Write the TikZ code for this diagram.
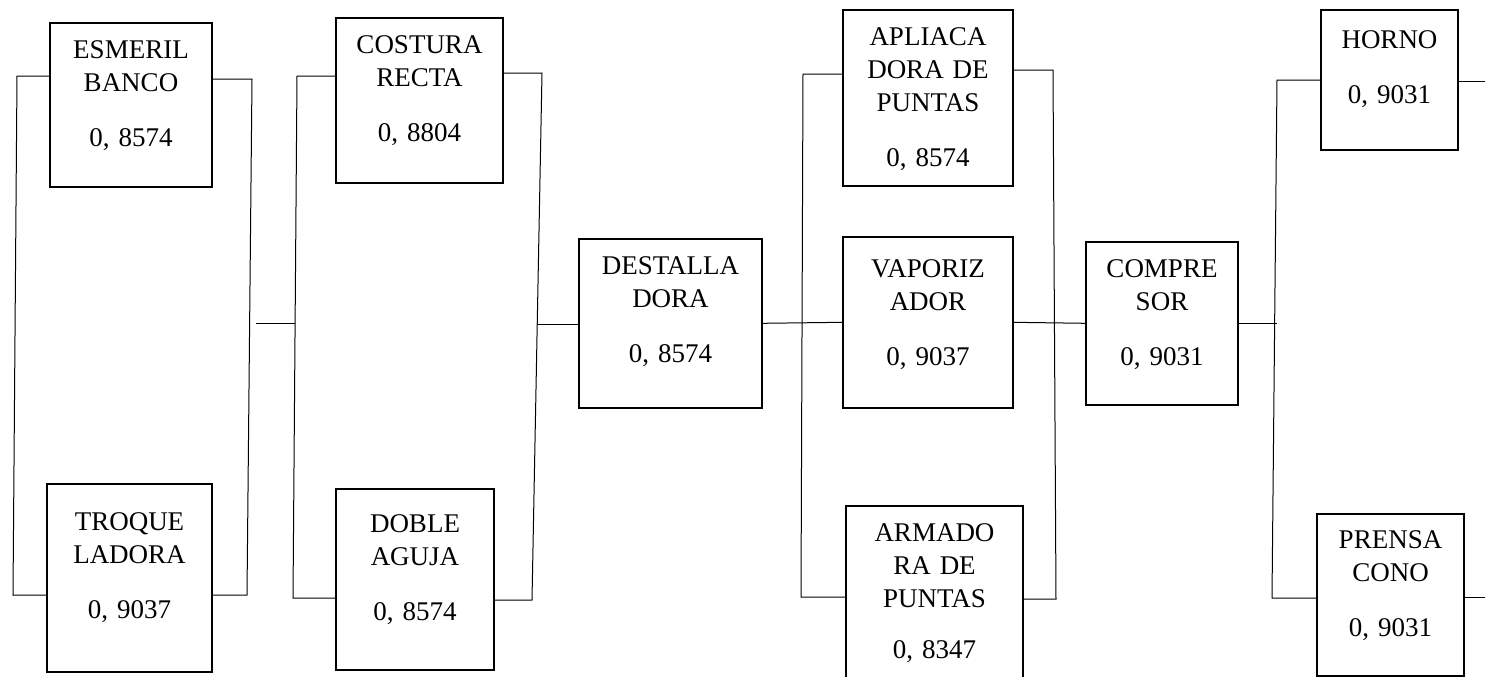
\documentclass[tikz,border=0pt]{standalone}
\usepackage{fontspec}
\setmainfont{Liberation Serif}
\usetikzlibrary{calc}
% machine name over its reliability value
\newcommand{\maq}[2]{#1\\[11pt]#2}

\begin{document}
\begin{tikzpicture}[x=0.5pt,y=-0.5pt,
  maquina/.style={draw,line width=0.8pt,align=center,inner sep=0pt,
    anchor=north,text height=18pt,
    font=\fontsize{13.5pt}{16.5pt}\selectfont},
  linea/.style={line width=0.5pt}]
  \clip (0,0) rectangle (1485,676);

  % Machines (pixel grid of the original sheet, y downwards; placed by top edge)
  \node[maquina,text width=81pt,text depth=64pt] (esmeril) at (131,22)
    {\maq{ESMERIL\\BANCO}{0, 8574}};
  \node[maquina,text width=82.5pt,text height=23.5pt,text depth=70.5pt] (troque) at (129.5,483)
    {\maq{TROQUE\\LADORA}{0, 9037}};
  \node[maquina,text width=83.5pt,text depth=64.5pt] (costura) at (419.5,17)
    {\maq{COSTURA\\RECTA}{0, 8804}};
  \node[maquina,text width=79pt,text height=22pt,text depth=68.5pt] (doble) at (415,488)
    {\maq{DOBLE\\AGUJA}{0, 8574}};
  \node[maquina,text width=91.5pt,text depth=66.5pt] (destalla) at (670.5,238)
    {\maq{DESTALLA\\DORA}{0, 8574}};
  \node[maquina,text width=85pt,text depth=70pt] (apliaca) at (928,9)
    {\maq{APLIACA\\DORA DE\\PUNTAS}{0, 8574}};
  \node[maquina,text width=85pt,text height=20.5pt,text depth=65pt] (vaporiz) at (928,236)
    {\maq{VAPORIZ\\ADOR}{0, 9037}};
  \node[maquina,text width=88.5pt,text depth=77pt] (armado) at (934.5,505)
    {ARMADO\\RA DE\\PUNTAS\\[9pt]0, 8347};
  \node[maquina,text width=76pt,text depth=63.5pt] (compresor) at (1162,241)
    {\maq{COMPRE\\SOR}{0, 9031}};
  \node[maquina,text width=68.5pt,text height=19.5pt,text depth=50.5pt] (horno) at (1389.5,9)
    {\maq{HORNO}{0, 9031}};
  \node[maquina,text width=73.5pt,text height=17.5pt,text depth=63.5pt] (prensa) at (1390.5,513)
    {\maq{PRENSA\\CONO}{0, 9031}};

  % Bus ends of the parallel blocks
  \coordinate (p1a) at (17,76);    \coordinate (p1b) at (13,595);
  \coordinate (q1a) at (252,79);   \coordinate (q1b) at (247,595);
  \coordinate (p2a) at (297,76);   \coordinate (p2b) at (293,598);
  \coordinate (q2a) at (542,73);   \coordinate (q2b) at (532,600);
  \coordinate (p3a) at (803,74);   \coordinate (p3b) at (801,597);
  \coordinate (q3a) at (1053,70);  \coordinate (q3b) at (1056,599);
  \coordinate (p4a) at (1277,80);  \coordinate (p4b) at (1272,598);
  \coordinate (e1) at (256,323);   \coordinate (m2) at (295,323);
  \coordinate (m3) at (537,324);
  \coordinate (s1) at (1485,81);   \coordinate (s2) at (1485,597);

  % Block 1
  \draw[linea] (esmeril.west |- p1a) -- (p1a) -- (p1b) -- (troque.west |- p1b);
  \draw[linea] (esmeril.east |- q1a) -- (q1a) -- (q1b) -- (troque.east |- q1b);
  \draw[linea] (e1) -- (m2);

  % Block 2
  \draw[linea] (costura.west |- p2a) -- (p2a) -- (p2b) -- (doble.west |- p2b);
  \draw[linea] (costura.east |- q2a) -- (q2a) -- (q2b) -- (doble.east |- q2b);
  \draw[linea] (m3) -- (destalla.west |- m3);
  \draw[linea] (destalla.east) -- (vaporiz.west);

  % Block 3
  \draw[linea] (apliaca.west |- p3a) -- (p3a) -- (p3b) -- (armado.west |- p3b);
  \draw[linea] (apliaca.east |- q3a) -- (q3a) -- (q3b) -- (armado.east |- q3b);
  \draw[linea] (vaporiz.east) -- (compresor.west);

  % Block 4
  \draw[linea] (compresor.east) -- (compresor.east -| p4a);
  \draw[linea] (horno.west |- p4a) -- (p4a) -- (p4b) -- (prensa.west |- p4b);
  \draw[linea] (horno.east |- s1) -- (s1);
  \draw[linea] (prensa.east |- s2) -- (s2);
\end{tikzpicture}
\end{document}
